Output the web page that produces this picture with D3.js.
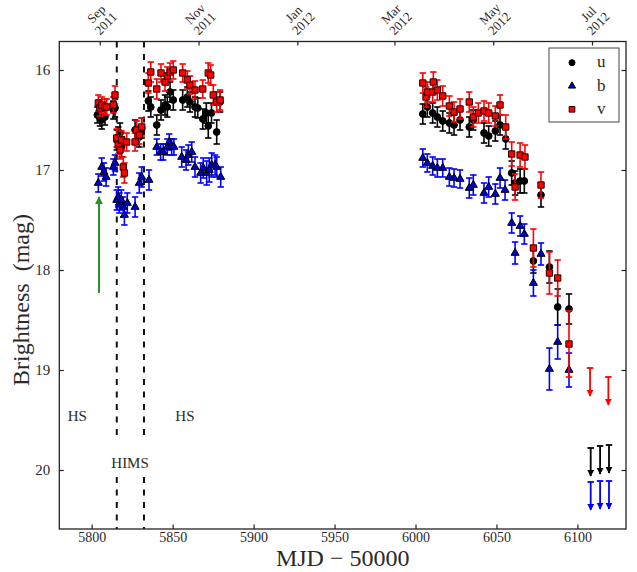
<!DOCTYPE html>
<html>
<head>
<meta charset="utf-8">
<script src="https://cdn.jsdelivr.net/npm/d3@7"></script>
<style>
  body { margin: 0; background: #fff; }
  svg { display: block; }
  text { font-family: "Liberation Serif", "DejaVu Serif", serif; fill: #2a2a2a; }
</style>
</head>
<body>
<svg id="chart" width="637" height="572"></svg>
<script>
'use strict';

// [MJD-50000, mag, err]
const uPoints = [
  [5803.5,16.45,0.08],[5805.1,16.48,0.08],[5806.2,16.50,0.09],[5808.2,16.47,0.08],
  [5813.4,16.40,0.09],[5814.4,16.38,0.09],
  [5815.5,16.70,0.10],[5816.4,16.67,0.10],[5817.5,16.63,0.10],[5818.5,16.77,0.10],
  [5826.8,16.60,0.10],[5829.4,16.67,0.10],[5830.9,16.58,0.10],
  [5835.0,16.31,0.10],[5836.5,16.37,0.10],[5840.2,16.55,0.10],[5842.8,16.40,0.10],
  [5845.3,16.35,0.10],[5846.7,16.37,0.10],[5848.4,16.22,0.10],[5850.4,16.30,0.10],
  [5856.2,16.30,0.10],[5859.1,16.27,0.10],[5860.7,16.32,0.10],[5863.8,16.37,0.10],
  [5865.5,16.38,0.10],[5868.6,16.49,0.10],[5870.8,16.43,0.10],[5872.0,16.56,0.12],
  [5874.0,16.43,0.10],[5877.2,16.62,0.12],[5879.3,16.32,0.10],
  [6004.5,16.44,0.10],[6007.3,16.37,0.10],[6010.6,16.43,0.10],[6013.5,16.47,0.10],
  [6016.8,16.51,0.10],[6020.9,16.53,0.10],[6023.8,16.55,0.10],[6027.5,16.50,0.10],
  [6033.2,16.57,0.10],[6035.7,16.50,0.10],[6042.3,16.63,0.10],[6045.2,16.66,0.10],
  [6049.3,16.61,0.10],[6052.2,16.55,0.10],[6055.7,16.69,0.10],[6059.4,17.03,0.12],
  [6061.5,17.13,0.12],[6064.6,17.11,0.12],[6067.2,17.11,0.12],[6072.8,17.91,0.12],
  [6077.5,17.25,0.12],[6082.7,17.97,0.16],[6087.8,18.37,0.18],[6094.8,18.39,0.15]
];

const bPoints = [
  [5804.1,17.13,0.09],[5806.2,16.97,0.09],[5807.6,17.02,0.09],[5808.9,17.07,0.09],
  [5813.4,16.97,0.08],[5814.4,16.93,0.08],
  [5815.5,17.30,0.10],[5816.4,17.27,0.10],[5817.1,17.33,0.10],[5818.3,17.30,0.10],
  [5819.5,17.37,0.10],[5820.2,17.45,0.10],[5822.0,17.33,0.10],
  [5826.8,17.37,0.10],[5829.4,17.13,0.10],[5830.9,17.07,0.10],[5835.4,17.10,0.10],
  [5840.2,16.77,0.08],[5842.6,16.82,0.08],[5844.2,16.82,0.08],[5846.7,16.77,0.08],
  [5847.9,16.72,0.08],[5849.4,16.77,0.08],[5850.8,16.77,0.08],
  [5855.6,16.87,0.10],[5858.3,16.90,0.10],[5859.7,16.85,0.10],[5861.8,16.82,0.10],
  [5863.8,16.97,0.10],[5867.3,17.03,0.10],[5868.9,16.98,0.10],[5871.0,17.03,0.12],
  [5872.6,17.00,0.12],[5874.1,16.95,0.12],[5876.2,16.95,0.10],[5877.2,16.97,0.10],
  [5879.7,17.07,0.10],
  [6004.5,16.88,0.09],[6007.3,16.93,0.09],[6010.6,16.96,0.09],[6013.5,16.98,0.09],
  [6016.8,16.98,0.09],[6020.9,17.07,0.09],[6023.8,17.08,0.09],[6027.5,17.09,0.09],
  [6033.2,17.18,0.10],[6035.7,17.15,0.10],[6042.3,17.23,0.10],[6045.2,17.17,0.10],
  [6049.3,17.24,0.10],[6052.2,17.08,0.10],[6055.3,17.20,0.10],[6059.4,17.53,0.10],
  [6061.5,17.83,0.11],[6064.6,17.56,0.10],[6067.2,17.64,0.10],[6072.8,18.13,0.13],
  [6077.5,17.84,0.11],[6082.7,18.99,0.21],[6087.8,18.72,0.17],[6094.8,19.00,0.17]
];

const vPoints = [
  [5804.1,16.33,0.08],[5805.1,16.38,0.08],[5806.2,16.35,0.08],[5808.2,16.37,0.08],
  [5809.3,16.37,0.08],[5813.4,16.35,0.08],[5814.4,16.25,0.09],
  [5815.5,16.68,0.09],[5816.4,16.75,0.09],[5817.5,16.80,0.09],[5818.5,16.70,0.09],
  [5819.5,16.97,0.10],[5820.2,17.03,0.10],[5821.6,16.72,0.09],
  [5826.8,16.72,0.09],[5827.8,16.60,0.09],[5829.4,16.65,0.09],[5830.9,16.57,0.09],
  [5835.0,16.13,0.10],[5836.5,16.02,0.10],[5840.2,16.19,0.10],[5842.8,16.03,0.09],
  [5845.3,16.12,0.09],[5846.7,16.06,0.09],[5848.4,16.02,0.09],[5850.4,16.00,0.09],
  [5856.2,16.03,0.09],[5859.1,16.10,0.09],[5860.7,16.15,0.09],[5863.8,16.20,0.09],
  [5868.6,16.19,0.09],[5872.0,16.03,0.10],[5873.5,16.05,0.10],[5875.1,16.25,0.10],
  [5877.2,16.32,0.10],[5879.3,16.30,0.10],
  [6004.5,16.13,0.10],[6006.5,16.27,0.10],[6007.3,16.22,0.10],[6010.6,16.22,0.10],
  [6011.0,16.12,0.10],[6013.5,16.20,0.10],[6016.8,16.26,0.10],[6020.9,16.36,0.10],
  [6023.8,16.42,0.10],[6027.5,16.39,0.10],[6033.2,16.32,0.10],[6035.7,16.47,0.10],
  [6038.8,16.43,0.10],[6042.3,16.41,0.10],[6045.2,16.43,0.10],[6049.3,16.46,0.10],
  [6052.2,16.35,0.10],[6055.7,16.57,0.12],[6059.4,16.84,0.12],[6061.5,17.17,0.13],
  [6064.6,16.85,0.12],[6067.6,16.87,0.12],[6072.8,17.78,0.19],[6077.5,17.15,0.13],
  [6082.7,18.03,0.21],[6087.8,18.08,0.18],[6094.8,18.74,0.33]
];

// upper limits [MJD-50000, mag]
const uLimits = [[6108.2,19.78],[6114.0,19.76],[6119.5,19.75]];
const bLimits = [[6108.2,20.12],[6114.0,20.11],[6119.5,20.11]];
const vLimits = [[6107.8,18.98],[6119.1,19.07]];
const limitLength = 0.28;

// state transitions and labels
const transitions = [5815.5, 5832.3];
const stateLabels = [
  {text:'HS', mjd:5791.1, mag:19.45},
  {text:'HS', mjd:5857.6, mag:19.45},
  {text:'HIMS', mjd:5823.7, mag:19.92}
];
const riseArrow = {mjd:5804.5, from:18.23, to:17.27};

const xTicks = [5800, 5850, 5900, 5950, 6000, 6050, 6100];
const yTicks = [16, 17, 18, 19, 20];
const monthTicks = [5805, 5866, 5927, 5987, 6048, 6109];
const monthLabels = [['Sep','2011'],['Nov','2011'],['Jan','2012'],['Mar','2012'],['May','2012'],['Jul','2012']];

const svg = d3.select('#chart');
const pLeft = 59.3, pRight = 626, pTop = 41.5, pBottom = 529;

const x = d3.scaleLinear().domain([5780, 6130]).range([pLeft, pRight]);
const y = d3.scaleLinear().domain([15.715, 20.59]).range([pTop, pBottom]);

// axes
svg.append('g')
  .attr('transform', 'translate(0,' + pBottom + ')')
  .call(d3.axisBottom(x).tickValues(xTicks).tickFormat(d3.format('d')).tickSize(-4.5).tickPadding(3.5))
  .call(g => g.select('.domain').remove())
  .call(g => g.selectAll('text').attr('font-size', 14).style('font-family', '"Liberation Serif", serif'));

svg.append('g')
  .attr('transform', 'translate(' + pLeft + ',0)')
  .call(d3.axisLeft(y).tickValues(yTicks).tickFormat(d3.format('d')).tickSize(-4.5).tickPadding(9))
  .call(g => g.select('.domain').remove())
  .call(g => g.selectAll('text').attr('font-size', 15).style('font-family', '"Liberation Serif", serif'));

svg.append('g')
  .attr('transform', 'translate(' + pRight + ',0)')
  .call(d3.axisRight(y).tickValues(yTicks).tickSize(-4.5).tickFormat(''))
  .call(g => g.select('.domain').remove());

svg.append('g')
  .attr('transform', 'translate(0,' + pTop + ')')
  .call(d3.axisTop(x).tickValues(monthTicks).tickSize(-4).tickFormat(''))
  .call(g => g.select('.domain').remove());

svg.selectAll('.tick line').attr('stroke', '#222').attr('stroke-width', 1.2);

// month labels, rotated
const mg = svg.append('g');
monthTicks.forEach(function(m, i){
  let g = mg.append('g')
    .attr('transform', 'translate(' + (x(m) + 1) + ',18.5) rotate(-45)');
  g.append('text').attr('text-anchor', 'middle').attr('y', -2).attr('font-size', 13).text(monthLabels[i][0]);
  g.append('text').attr('text-anchor', 'middle').attr('y', 11.5).attr('font-size', 13).text(monthLabels[i][1]);
});

// axis titles
svg.append('text')
  .attr('x', (pLeft + pRight) / 2).attr('y', 566)
  .attr('text-anchor', 'middle').attr('font-size', 24)
  .text('MJD \u2212 50000');

svg.append('text')
  .attr('transform', 'translate(29,300) rotate(-90)')
  .attr('text-anchor', 'middle').attr('font-size', 24)
  .style('white-space', 'pre')
  .text('Brightness  (mag)');

// dashed transition lines, broken around the HIMS label
const dashSegs = [[15.715, 19.66], [20.07, 20.59]];
transitions.forEach(function(t){
  dashSegs.forEach(function(s){
    svg.append('line')
      .attr('x1', x(t)).attr('x2', x(t))
      .attr('y1', y(s[0])).attr('y2', y(s[1]))
      .attr('stroke', '#111').attr('stroke-width', 2)
      .attr('stroke-dasharray', '6,6.5');
  });
});

svg.selectAll('.state')
  .data(stateLabels)
  .enter().append('text')
    .attr('x', d => x(d.mjd)).attr('y', d => y(d.mag) + 5.5)
    .attr('text-anchor', 'middle').attr('font-size', 15)
    .text(d => d.text);

// arrow heads
const defs = svg.append('defs');
function arrowMarker(id, color){
  defs.append('marker')
    .attr('id', id).attr('viewBox', '0 0 10 10')
    .attr('refX', 9).attr('refY', 5)
    .attr('markerWidth', 4).attr('markerHeight', 4)
    .attr('markerUnits', 'strokeWidth')
    .attr('orient', 'auto')
    .append('path').attr('d', 'M0,0 L10,5 L0,10 z').attr('fill', color);
}
arrowMarker('arrGreen', '#2a8f2a');
arrowMarker('arrBlack', '#000');
arrowMarker('arrBlue', '#0000ff');
arrowMarker('arrRed', '#ff0000');

svg.append('line')
  .attr('x1', x(riseArrow.mjd)).attr('x2', x(riseArrow.mjd))
  .attr('y1', y(riseArrow.from)).attr('y2', y(riseArrow.to))
  .attr('stroke', '#2a8f2a').attr('stroke-width', 2)
  .attr('marker-end', 'url(#arrGreen)');

// error bars + markers
const bands = [
  {pts:uPoints, lims:uLimits, color:'#000', marker:d3.symbolCircle, size:36, fill:'#000', edge:'#000', arrow:'arrBlack'},
  {pts:bPoints, lims:bLimits, color:'#0000ff', marker:d3.symbolTriangle, size:28, fill:'#0000cc', edge:'#000', arrow:'arrBlue'},
  {pts:vPoints, lims:vLimits, color:'#ff0000', marker:d3.symbolSquare, size:40, fill:'#ff0000', edge:'#220000', arrow:'arrRed'}
];
const cap = 3.2;

bands.forEach(function(b){
  let g = svg.append('g');
  let eb = g.selectAll('g.eb').data(b.pts).enter().append('g')
    .attr('stroke', b.color).attr('stroke-width', 1.6);
  eb.append('line')
    .attr('x1', d => x(d[0])).attr('x2', d => x(d[0]))
    .attr('y1', d => y(d[1] - d[2])).attr('y2', d => y(d[1] + d[2]));
  eb.append('line')
    .attr('x1', d => x(d[0]) - cap).attr('x2', d => x(d[0]) + cap)
    .attr('y1', d => y(d[1] - d[2])).attr('y2', d => y(d[1] - d[2]));
  eb.append('line')
    .attr('x1', d => x(d[0]) - cap).attr('x2', d => x(d[0]) + cap)
    .attr('y1', d => y(d[1] + d[2])).attr('y2', d => y(d[1] + d[2]));

  // upper limits
  let ul = g.selectAll('g.ul').data(b.lims).enter().append('g')
    .attr('stroke', b.color).attr('stroke-width', 1.8);
  ul.append('line')
    .attr('x1', d => x(d[0])).attr('x2', d => x(d[0]))
    .attr('y1', d => y(d[1])).attr('y2', d => y(d[1] + limitLength))
    .attr('marker-end', 'url(#' + b.arrow + ')');
  ul.append('line')
    .attr('x1', d => x(d[0]) - cap).attr('x2', d => x(d[0]) + cap)
    .attr('y1', d => y(d[1])).attr('y2', d => y(d[1]));

  g.selectAll('path.pt').data(b.pts).enter().append('path')
    .attr('d', d3.symbol(b.marker).size(b.size))
    .attr('transform', d => 'translate(' + x(d[0]) + ',' + y(d[1]) + ')')
    .attr('fill', b.fill).attr('stroke', b.edge).attr('stroke-width', 1);
});

// frame
svg.append('rect')
  .attr('x', pLeft).attr('y', pTop)
  .attr('width', pRight - pLeft).attr('height', pBottom - pTop)
  .attr('fill', 'none').attr('stroke', '#222').attr('stroke-width', 1.3);

// legend
const legendNames = ['u', 'b', 'v'];
const lg = svg.append('g');
lg.append('rect')
  .attr('x', 549).attr('y', 48).attr('width', 70).attr('height', 74)
  .attr('fill', '#fff').attr('stroke', '#444').attr('stroke-width', 1);
bands.forEach(function(b, i){
  let cy = 62.7 + i * 23.3;
  lg.append('path')
    .attr('d', d3.symbol(b.marker).size(b.size * 0.8))
    .attr('transform', 'translate(572,' + cy + ')')
    .attr('fill', b.fill).attr('stroke', b.edge).attr('stroke-width', 1);
  lg.append('text')
    .attr('x', 597).attr('y', cy + 4.5)
    .attr('font-size', 17)
    .text(legendNames[i]);
});
</script>
</body>
</html>
